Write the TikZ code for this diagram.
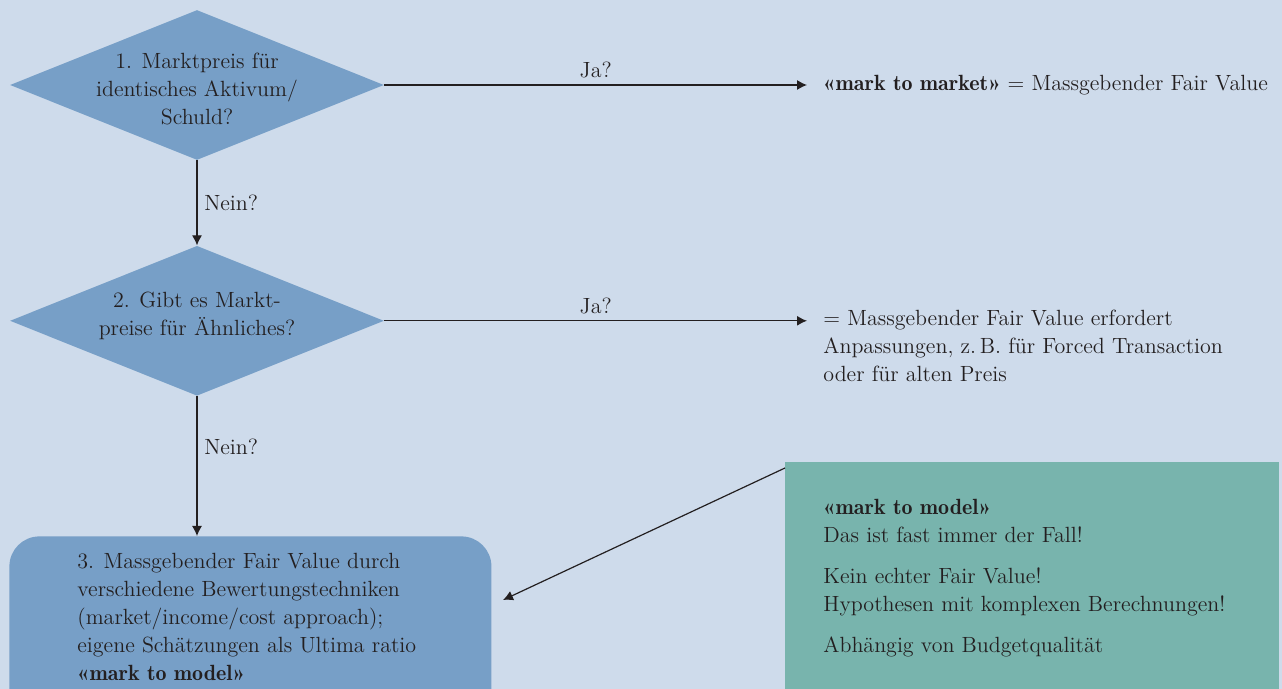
\documentclass[tikz,border=0pt]{standalone}
\usepackage{tikz}
\usetikzlibrary{arrows.meta,positioning,shapes.geometric}
\definecolor{bgblue}{HTML}{CEDBEB}
\definecolor{boxblue}{HTML}{779FC7}
\definecolor{boxgreen}{HTML}{78B4AD}
\definecolor{ink}{HTML}{231F20}
\newcommand{\semibold}[1]{{\fontseries{b}\selectfont #1}}
\newcommand{\lowered}[2]{\raisebox{-#1}[\height][\depth]{\begin{tabular}{@{}c@{}}#2\end{tabular}}}

\begin{document}
\begin{tikzpicture}[>={Latex[length=5pt,width=5pt]},x=0.5pt,y=-0.5pt,font=\fontsize{11}{14}\selectfont,text=ink,
    decision/.style={diamond,aspect=2.5,fill=boxblue,inner sep=-3pt,minimum width=187pt,minimum height=75pt},
    flow/.style={->,draw=ink,line width=0.6pt},
    block/.style={anchor=north west,align=left,inner ysep=0pt,inner xsep=8pt}]
  \clip (0,0) rectangle (1282,689);
  \fill[bgblue] (0,0) rectangle (1282,689);
  % questions
  \node[decision] (q1) at (197,85) {\lowered{3pt}{1. Marktpreis für\\identisches Aktivum/\\Schuld?}};
  \node[decision,below=42.5pt of q1] (q2) {\lowered{-2.5pt}{2. Gibt es Markt-\\preise für Ähnliches?}};
  \node[rounded corners=15pt,fill=boxblue,minimum width=241pt,minimum height=92pt,anchor=north west] (q3) at (9,536) {};
  \node[block] (q3text) at (61,553) {3. Massgebender Fair Value durch\\verschiedene Bewertungstechniken\\(market/income/cost approach);\\eigene Schätzungen als Ultima ratio\\\semibold{«mark to model»}};
  % answers
  \node[anchor=west,inner xsep=8pt] (mtm) at (807,85) {\semibold{«mark to market»} = Massgebender Fair Value};
  \node[block] (adj) at (807,310) {= Massgebender Fair Value erfordert\\Anpassungen, z.\,B. für Forced Transaction\\oder für alten Preis};
  \node[fill=boxgreen,minimum width=247pt,minimum height=130pt,anchor=north west] (note) at (785,462) {};
  \node[block] (notetext) at (807,499) {\semibold{«mark to model»}\\Das ist fast immer der Fall!\\[6.5pt]Kein echter Fair Value!\\Hypothesen mit komplexen Berechnungen!\\[6.5pt]Abhängig von Budgetqualität};
  \coordinate (tip) at (503,600);
  % arrows
  \draw[flow] (q1) -- node[right] (no1) {Nein?} (q2);
  \draw[flow] (q2.south) -- node[pos=0.36,right] (no2) {Nein?} (q2.south |- q3.north);
  \draw[flow] (q1.east) -- node[above] (yes1) {Ja?} (mtm.west);
  \draw[flow] (q2.east) -- node[above] (yes2) {Ja?} (q2.east -| adj.west);
  \draw[flow] ([yshift=-3pt]note.north west) -- (tip);
\end{tikzpicture}
\end{document}
